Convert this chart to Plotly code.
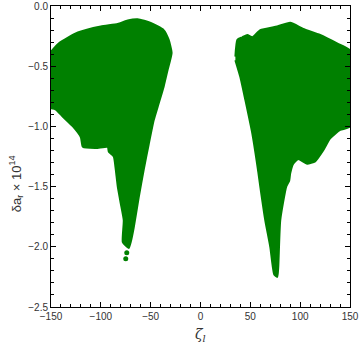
import plotly.graph_objects as go

green = "#008000"

# outline of the left region (zeta_l, delta a_r x 1e14)
left_x = [-150, -142, -123, -100, -83, -73, -63, -50, -37, -32, -29, -33, -37, -42, -47,
          -52, -57, -62, -67, -70, -72, -75, -78, -77, -80, -83, -85, -87, -92, -93,
          -105, -118, -120, -128, -138, -145, -150]
left_y = [-0.38, -0.31, -0.22, -0.17, -0.15, -0.12, -0.11, -0.14, -0.20, -0.28, -0.39, -0.53, -0.67, -0.81, -0.95,
          -1.15, -1.36, -1.59, -1.84, -1.96, -2.01, -1.99, -1.96, -1.78, -1.64, -1.50, -1.36, -1.25, -1.21, -1.17,
          -1.18, -1.17, -1.09, -1.00, -0.92, -0.86, -0.85]

# stray points below the left tail
dots_x = [-74, -75]
dots_y = [-2.05, -2.10]

# outline of the right region
right_x = [35, 37, 42, 47, 52, 60, 77, 90, 103, 120, 137, 150, 150, 140, 130, 123, 115,
           107, 98, 93, 90, 89, 86, 80, 78, 77, 74, 70, 65, 60, 58, 52, 45, 40, 35]
right_y = [-0.42, -0.28, -0.26, -0.24, -0.26, -0.20, -0.17, -0.14, -0.19, -0.24, -0.31, -0.37, -1.00, -1.03, -1.10, -1.20, -1.29,
           -1.31, -1.27, -1.31, -1.39, -1.45, -1.50, -1.78, -2.17, -2.25, -2.23, -2.00, -1.78, -1.50, -1.38, -1.06, -0.78, -0.59, -0.45]

fig = go.Figure()
for xs, ys in [(left_x, left_y), (right_x, right_y)]:
    fig.add_trace(go.Scatter(
        x=xs, y=ys, mode="lines", fill="toself",
        fillcolor=green, line=dict(color=green, width=2, shape="spline", smoothing=0.5),
        hoverinfo="skip", showlegend=False
    ))
fig.add_trace(go.Scatter(
    x=dots_x, y=dots_y, mode="markers",
    marker=dict(color=green, size=5), showlegend=False
))

axis_common = dict(
    showgrid=False, zeroline=False, showline=True, linecolor="black", linewidth=1,
    mirror="allticks", ticks="inside", ticklen=5, tickcolor="black", automargin=False,
    tickfont=dict(family="Liberation Sans, Arial", size=10, color="#333"),
)

fig.update_xaxes(
    range=[-150, 150], tickvals=[-150, -100, -50, 0, 50, 100, 150],
    ticktext=["\u2212150", "\u2212100", "\u221250", "0", "50", "100", "150"],
    minor=dict(dtick=10, ticks="inside", ticklen=3, tickcolor="black"),
    **axis_common
)
fig.update_yaxes(
    range=[-2.5, 0], tickvals=[-2.5, -2.0, -1.5, -1.0, -0.5, 0.0],
    ticktext=["\u22122.5", "\u22122.0", "\u22121.5", "\u22121.0", "\u22120.5", "0.0"],
    minor=dict(dtick=0.1, ticks="inside", ticklen=3, tickcolor="black"),
    **axis_common
)

fig.add_annotation(
    text="\u03b4a<sub>r</sub> \u00d7 10<sup>14</sup>", textangle=-90,
    xref="paper", yref="paper", x=-0.155, y=0.41, showarrow=False,
    font=dict(family="Liberation Sans, Arial", size=13, color="#333")
)
fig.add_annotation(
    text="<i>\u03b6<sub>l</sub></i>",
    xref="paper", yref="paper", x=0.5, y=-0.055, yanchor="top", showarrow=False,
    font=dict(family="DejaVu Serif", size=14, color="#333")
)

fig.update_layout(
    width=360, height=347,
    margin=dict(l=51, r=10, t=6, b=40),
    plot_bgcolor="white", paper_bgcolor="white",
)

fig.write_html("out.html", config={"displayModeBar": False},
               post_script="document.body.style.margin='0';")
